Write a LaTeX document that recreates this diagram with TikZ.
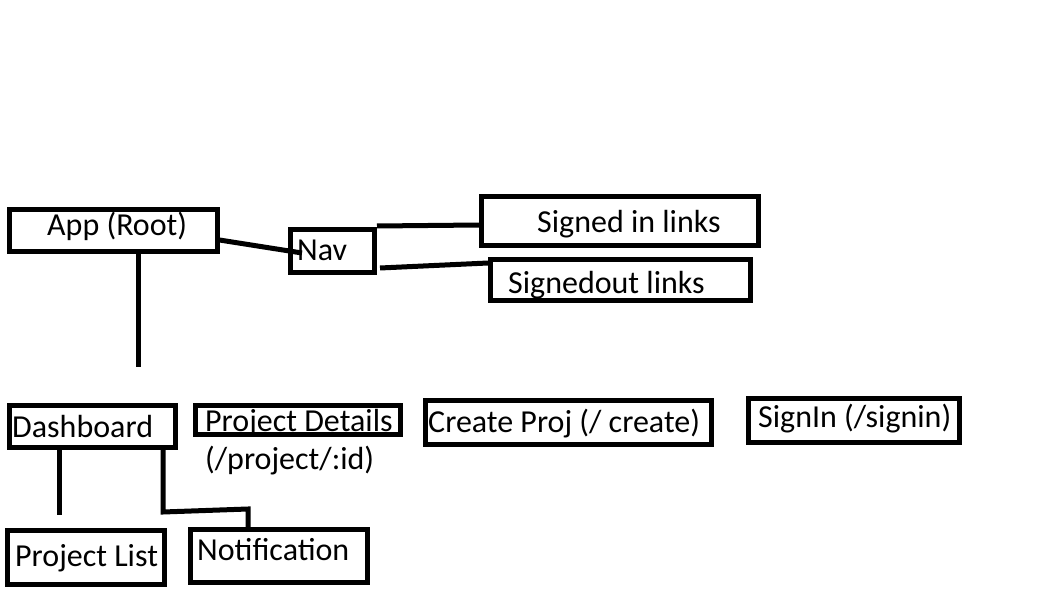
\documentclass[tikz,border=0pt]{standalone}
\usepackage{fontspec}
\setmainfont{Carlito}
\begin{document}
\begin{tikzpicture}[x=1pt,y=-1pt,
  box/.style={draw=black,line width=5pt,fill=none,inner sep=0pt},
  lbl/.style={anchor=base west,inner sep=0pt,font=\fontsize{32}{38}\selectfont},
  conn/.style={draw=black,line width=5pt}]
\useasboundingbox[fill=white] (0,0) rectangle (1037,591);
% boxes (center, width, height)
\node[box,minimum width=207.5pt,minimum height=41.5pt] (app) at (113.25,230.75) {};
\node[box,minimum width=84pt,minimum height=43pt] (nav) at (332.5,251) {};
\node[box,minimum width=277pt,minimum height=48.5pt] (sin) at (620,221.25) {};
\node[box,minimum width=260pt,minimum height=41pt] (sout) at (620.5,280) {};
\node[box,minimum width=166pt,minimum height=42pt] (dash) at (92.5,426.5) {};
\node[box,minimum width=205pt,minimum height=29pt] (pd) at (298,420) {};
\node[box,minimum width=286pt,minimum height=43.5pt] (cp) at (568.5,422.25) {};
\node[box,minimum width=210.5pt,minimum height=44pt] (si) at (853.75,420.5) {};
\node[box,minimum width=157pt,minimum height=54pt] (pl) at (86,557.5) {};
\node[box,minimum width=177pt,minimum height=53pt] (nt) at (279,556) {};
% labels
\node[lbl] (tapp) at (47,235) {App (Root)};
\node[lbl] (tnav) at (297,260) {Nav};
\node[lbl] (tsin) at (537,233) {Signed in links};
\node[lbl] (tsout) at (508,293) {Signedout links};
\node[lbl] (tdash) at (12,437) {Dashboard};
\node[lbl] (tpd) at (205,431) {Project Details};
\node[lbl] (tpd2) at (205,469) {(/project/:id)};
\node[lbl] (tcp) at (428,432) {Create Proj (/ create)};
\node[lbl] (tsi) at (758,427) {SignIn (/signin)};
\node[lbl] (tpl) at (15,566) {Project List};
\node[lbl] (tnt) at (197,560) {Notification};
% connectors
\coordinate (appdown) at (138,367);
\draw[conn] (app.east |- 0,240) -- (302,253);
\draw[conn] (138,253) -- (appdown);
\draw[conn] (nav.north east) ++(0,-1) -- (sin.west |- 0,225);
\draw[conn] (380,268) -- (sout.west |- 0,263);
\draw[conn] (59,448) -- (59,515);
\draw[conn] (163,448) -- (163,512) -- (248,509) -- (nt.north -| 248,0);
\end{tikzpicture}
\end{document}
